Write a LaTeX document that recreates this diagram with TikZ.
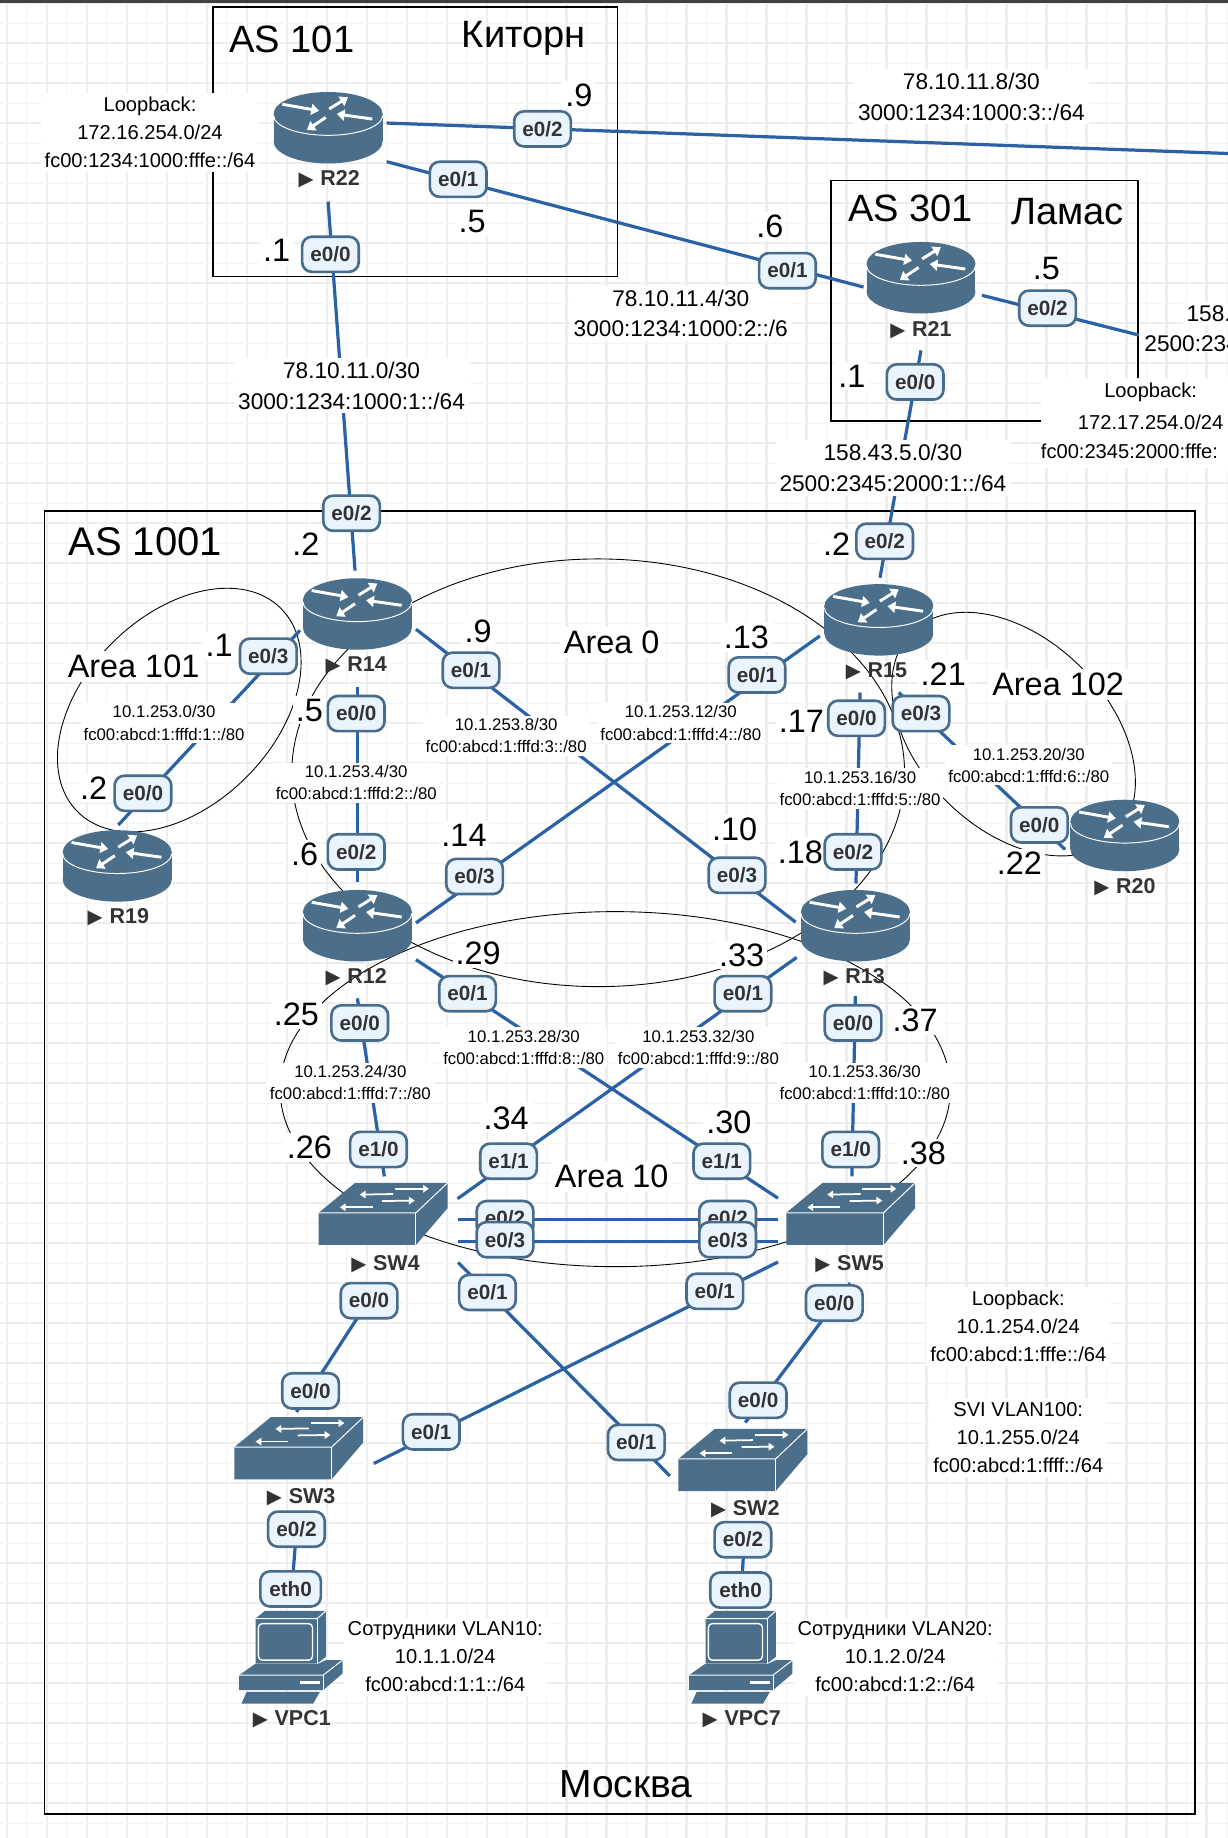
\documentclass[tikz,border=0pt]{standalone}
\usepackage{fontspec}
\setmainfont{Liberation Sans}
\newfontfamily\symfont{DejaVu Sans}
\usetikzlibrary{arrows.meta}
\pgfdeclarelayer{gridlayer}
\pgfdeclarelayer{linklayer}
\pgfsetlayers{gridlayer,linklayer,main}
\definecolor{devblue}{HTML}{4B6F8A}
\definecolor{linkblue}{HTML}{2B62A6}
\definecolor{pillborder}{HTML}{486C8C}
\definecolor{pillfill}{HTML}{E9F4FE}
\definecolor{pilltext}{HTML}{333333}
\definecolor{gridmajor}{HTML}{EEEEEE}
\definecolor{gridminor}{HTML}{F5F5F5}
\newcommand{\tri}{{\symfont\fontsize{10}{10}\selectfont ▶}\hspace{3.5pt}}
\tikzset{
  devnode/.style={inner sep=0pt,minimum size=1pt},
  link/.style={draw=linkblue,line width=1.65pt},
  area/.style={draw=black,line width=0.45pt},
  box/.style={draw=black,line width=0.95pt},
  pill/.style={draw=pillborder,fill=pillfill,text=pilltext,line width=1.35pt,rounded corners=5pt,
    minimum width=29pt,minimum height=18pt,inner xsep=1pt,inner ysep=0pt,font=\fontsize{10.6}{12}\selectfont\bfseries},
  devlabel/.style={text=pilltext,inner sep=0pt,font=\fontsize{11}{12}\selectfont\bfseries},
  dotlabel/.style={fill=white,inner sep=1.5pt,font=\fontsize{16.6}{18}\selectfont},
  arealabel/.style={fill=white,inner sep=2pt,font=\fontsize{16.6}{18}\selectfont},
  title/.style={inner sep=1pt,font=\fontsize{19.5}{22}\selectfont},
  bignet/.style={fill=white,inner sep=2pt,align=center,font=\fontsize{11.6}{15.8}\selectfont},
  loopnet/.style={fill=white,inner sep=2pt,align=center,font=\fontsize{10.3}{14.4}\selectfont},
  smallnet/.style={fill=white,inner sep=1.5pt,align=center,font=\fontsize{8.6}{11.3}\selectfont},
  routerpic/.pic={
    \fill[devblue] (-46.5,-11.7) rectangle (46.5,11.7);
    \fill[devblue] (0,11.7) ellipse [x radius=46.5,y radius=18.8];
    \fill[devblue] (0,-11.7) ellipse [x radius=46.5,y radius=18.8];
    \draw[white,line width=0.5pt] (-46.5,-10.5) arc [start angle=180,end angle=0,x radius=46.5,y radius=17];
    \begin{scope}[white,line width=1.5pt,-{Triangle[length=4pt,width=5.6pt]}]
      \draw (-39,-20) -- (-7.7,-14.5);
      \draw (0.9,-16) -- (17,-26);
      \draw (37.8,-7.4) -- (7.4,-11.7);
      \draw (-2,-8.8) -- (-18,2);
    \end{scope}
  },
  switchpic/.pic={
    \fill[devblue] (-24,-26.5) -- (55,-26.5) -- (55,-5) -- (28,26.5) -- (-55,26.5) -- (-55,-1) -- cycle;
    \draw[white,line width=0.5pt] (-55,-1) -- (28,-1) -- (55,-26.5);
    \draw[white,line width=0.5pt] (28,-1) -- (28,26.5);
    \begin{scope}[white,line width=0.9pt,-{Triangle[length=3pt,width=3.8pt]}]
      \draw (10,-21.5) -- (39,-21.5);
      \draw (8.5,-17) -- (-20,-16.5);
      \draw (-1,-11) -- (27,-11.4);
      \draw (-9,-5.7) -- (-37,-5.7);
    \end{scope}
  },
  pcpic/.pic={
    \fill[devblue] (-30.4,-32.7) -- (-22.5,-39.2) -- (29.6,-39.2) -- (29.6,0) -- (22.2,5.7) -- (-30.4,5.7) -- cycle;
    \draw[white,line width=0.5pt] (-30.4,-32.7) -- (22.2,-32.7) -- (29.6,-39.2);
    \draw[white,line width=0.5pt] (22.2,-32.7) -- (22.2,5.7);
    \draw[white,line width=0.7pt,rounded corners=2pt] (-28,-28.4) rectangle (18.2,2.8);
    \fill[devblue] (-31,6.2) -- (-44.4,15.6) -- (-44.4,28.4) -- (27.3,28.4) -- (43.8,14.2) -- (43.8,2.8) -- (29.6,2.8) -- (22.2,6.2) -- cycle;
    \draw[white,line width=0.5pt] (-44.4,15.6) -- (27.3,15.6) -- (43.8,2.8);
    \draw[white,line width=0.5pt] (27.3,15.6) -- (27.3,28.4);
    \fill[white] (7.4,20.5) rectangle (24.5,23.3);
    \fill[devblue] (-38,29.9) -- (24.5,29.9) -- (18.8,39.8) -- (-42.4,39.8) -- cycle;
  }
}
\begin{document}
\begin{tikzpicture}[x=0.6pt,y=-0.6pt]
\useasboundingbox (0,0) rectangle (1048,1568.6);
\begin{pgfonlayer}{gridlayer}
  \fill[white] (0,0) rectangle (1048,1568.6);
  \foreach \i in {0,...,61} {
    \pgfmathsetmacro{\gx}{5.7+17.07*\i}
    \draw[gridminor,line width=0.6pt] (\gx,0) -- (\gx,1568.6);
  }
  \foreach \i in {0,...,30} {
    \pgfmathsetmacro{\gx}{5.7+34.13*\i}
    \draw[gridmajor,line width=1.1pt] (\gx,0) -- (\gx,1568.6);
  }
  \foreach \i in {0,...,91} {
    \pgfmathsetmacro{\gy}{2.8+17.07*\i}
    \draw[gridminor,line width=0.6pt] (0,\gy) -- (1048,\gy);
  }
  \foreach \i in {0,...,45} {
    \pgfmathsetmacro{\gy}{2.8+34.13*\i}
    \draw[gridmajor,line width=1.1pt] (0,\gy) -- (1048,\gy);
  }
  \fill[black!75] (0,0) rectangle (1048,2.5);
  \draw[box] (182,6) rectangle (527,236);
  \draw[box] (709,154) rectangle (971,359);
  \draw[box] (38,436) rectangle (1020,1548);
\end{pgfonlayer}

% devices
\node[devnode] (r22) at (280,109) {};
\node[devnode] (r21) at (786,237) {};
\node[devnode] (r14) at (305,524) {};
\node[devnode] (r15) at (750,529) {};
\node[devnode] (r19) at (100,739) {};
\node[devnode] (r12) at (305,790) {};
\node[devnode] (r13) at (730,790) {};
\node[devnode] (r20) at (960,713) {};
\node[devnode] (sw4) at (327,1036) {};
\node[devnode] (sw5) at (726,1036) {};
\node[devnode] (sw3) at (255,1236) {};
\node[devnode] (sw2) at (634,1246) {};
\node[devnode] (vpc1) at (248.5,1414) {};
\node[devnode] (vpc7) at (632.5,1414) {};
\foreach \d in {r22,r21,r14,r15,r19,r12,r13,r20} { \pic at (\d) {routerpic}; }
\foreach \d in {sw4,sw5,sw3,sw2} { \pic at (\d) {switchpic}; }
\foreach \d in {vpc1,vpc7} { \pic at (\d) {pcpic}; }

\node[devlabel] (lr22) at (281,153) {\tri R22};
\node[devlabel] (lr21) at (786,282) {\tri R21};
\node[devlabel] (lr14) at (304,568) {\tri R14};
\node[devlabel] (lr15) at (748,573) {\tri R15};
\node[devlabel] (lr19) at (101,783) {\tri R19};
\node[devlabel] (lr12) at (304,834) {\tri R12};
\node[devlabel] (lr13) at (729,834) {\tri R13};
\node[devlabel] (lr20) at (960,757) {\tri R20};
\node[devlabel] (lsw4) at (329,1079) {\tri SW4};
\node[devlabel] (lsw5) at (725,1079) {\tri SW5};
\node[devlabel] (lsw3) at (257,1278) {\tri SW3};
\node[devlabel] (lsw2) at (636,1288) {\tri SW2};
\node[devlabel] (lvpc1) at (249,1467) {\tri VPC1};
\node[devlabel] (lvpc7) at (633,1467) {\tri VPC7};

% titles
\node[title] (tas101) at (249,34) {AS 101};
\node[title] (tkit) at (447,33) {Киторн};
\node[title] (tas301) at (777,178) {AS 301};
\node[title] (tlam) at (911,181) {Ламас};
\node[title,font=\fontsize{20.5}{22}\selectfont] (tas1001) at (124,462) {AS 1001};
\node[title,font=\fontsize{20}{22}\selectfont] (tmsk) at (534,1523) {Москва};

% area labels
\node[arealabel] (a101) at (114,569) {Area 101};
\node[arealabel] (a0) at (522,548) {Area 0};
\node[arealabel] (a102) at (903,584) {Area 102};
\node[arealabel] (a10) at (522,1004) {Area 10};

% network labels
\node[loopnet] (n1) at (128,113) {Loopback:\\172.16.254.0/24\\fc00:1234:1000:fffe::/64};
\node[bignet] (n2) at (300,329) {78.10.11.0/30\\3000:1234:1000:1::/64};
\node[bignet] (n3) at (829,82.5) {78.10.11.8/30\\3000:1234:1000:3::/64};
\node[bignet] (n4) at (581,267.5) {78.10.11.4/30\\3000:1234:1000:2::/6};
\node[bignet] (n5) at (762,399.5) {158.43.5.0/30\\2500:2345:2000:1::/64};
\node[bignet,anchor=west] (n6a) at (1009,268) {158.4};
\node[bignet,anchor=west,inner ysep=0.5pt] (n6b) at (973,293) {2500:234};
\fill[white] (888,323) rectangle (1048,399);
\node[inner sep=0pt,font=\fontsize{10.3}{14.4}\selectfont] (n7a) at (982,335) {Loopback:};
\node[inner sep=0pt,font=\fontsize{10.3}{14.4}\selectfont] (n7b) at (982,360) {172.17.254.0/24};
\node[inner sep=0pt,anchor=west,font=\fontsize{10.3}{14.4}\selectfont] (n7c) at (888,385) {fc00:2345:2000:fffe:};
\node[smallnet] (s0) at (140,617) {10.1.253.0/30\\fc00:abcd:1:fffd:1::/80};
\node[smallnet] (s4) at (304,668) {10.1.253.4/30\\fc00:abcd:1:fffd:2::/80};
\node[smallnet] (s8) at (432,628) {10.1.253.8/30\\fc00:abcd:1:fffd:3::/80};
\node[smallnet] (s12) at (581,617) {10.1.253.12/30\\fc00:abcd:1:fffd:4::/80};
\node[smallnet] (s16) at (734,673) {10.1.253.16/30\\fc00:abcd:1:fffd:5::/80};
\node[smallnet] (s20) at (878,653) {10.1.253.20/30\\fc00:abcd:1:fffd:6::/80};
\node[smallnet] (s24) at (299,924) {10.1.253.24/30\\fc00:abcd:1:fffd:7::/80};
\node[smallnet] (s28) at (447,894) {10.1.253.28/30\\fc00:abcd:1:fffd:8::/80};
\node[smallnet] (s32) at (596,894) {10.1.253.32/30\\fc00:abcd:1:fffd:9::/80};
\node[smallnet] (s36) at (738,924) {10.1.253.36/30\\fc00:abcd:1:fffd:10::/80};
\node[loopnet] (n8) at (869,1132) {Loopback:\\10.1.254.0/24\\fc00:abcd:1:fffe::/64};
\node[loopnet] (n9) at (869,1227) {SVI VLAN100:\\10.1.255.0/24\\fc00:abcd:1:ffff::/64};
\node[loopnet] (n10) at (380,1414) {Сотрудники VLAN10:\\10.1.1.0/24\\fc00:abcd:1:1::/64};
\node[loopnet] (n11) at (764,1414) {Сотрудники VLAN20:\\10.1.2.0/24\\fc00:abcd:1:2::/64};

% address labels
\node[dotlabel] (d1) at (494,81) {.9};
\node[dotlabel] (d2) at (403,189) {.5};
\node[dotlabel] (d3) at (236,214) {.1};
\node[dotlabel] (d4) at (657,193) {.6};
\node[dotlabel] (d5) at (893,229) {.5};
\node[dotlabel] (d6) at (727,321) {.1};
\node[dotlabel] (d7) at (261,464) {.2};
\node[dotlabel] (d8) at (187,551) {.1};
\node[dotlabel] (d9) at (264,606) {.5};
\node[dotlabel] (d10) at (408,539) {.9};
\node[dotlabel] (d11) at (80,673) {.2};
\node[dotlabel] (d12) at (714,464) {.2};
\node[dotlabel] (d13) at (637,544) {.13};
\node[dotlabel] (d14) at (684,616) {.17};
\node[dotlabel] (d15) at (805,575) {.21};
\node[dotlabel] (d16) at (260,729) {.6};
\node[dotlabel] (d17) at (396,713) {.14};
\node[dotlabel] (d18) at (627,708) {.10};
\node[dotlabel] (d19) at (683,727) {.18};
\node[dotlabel] (d20) at (870,737) {.22};
\node[dotlabel] (d21) at (408,814) {.29};
\node[dotlabel] (d22) at (633,815) {.33};
\node[dotlabel] (d23) at (253,866) {.25};
\node[dotlabel] (d24) at (781,871) {.37};
\node[dotlabel] (d25) at (264,979) {.26};
\node[dotlabel] (d26) at (432,954) {.34};
\node[dotlabel] (d27) at (622,958) {.30};
\node[dotlabel] (d28) at (788,984) {.38};

% interface pills
\node[pill] (p22b) at (463,110) {e0/2};
\node[pill] (p22a) at (391,153) {e0/1};
\node[pill] (p22c) at (282,217) {e0/0};
\node[pill] (p21a) at (672,231) {e0/1};
\node[pill] (p21b) at (894,263) {e0/2};
\node[pill] (p21c) at (781,326) {e0/0};
\node[pill] (p14a) at (300,438) {e0/2};
\node[pill] (p14b) at (229,560) {e0/3};
\node[pill] (p14c) at (304,609) {e0/0};
\node[pill] (p14d) at (402,572) {e0/1};
\node[pill] (p19a) at (122,677) {e0/0};
\node[pill] (p12a) at (304,727) {e0/2};
\node[pill] (p12b) at (405,748) {e0/3};
\node[pill] (p12c) at (399,848) {e0/1};
\node[pill] (p12d) at (307,873) {e0/0};
\node[pill] (p15a) at (755,462) {e0/2};
\node[pill] (p15b) at (646,576) {e0/1};
\node[pill] (p15c) at (731,613) {e0/0};
\node[pill] (p15d) at (786,609) {e0/3};
\node[pill] (p13a) at (728,727) {e0/2};
\node[pill] (p13b) at (629,747) {e0/3};
\node[pill] (p13c) at (634,848) {e0/1};
\node[pill] (p13d) at (728,873) {e0/0};
\node[pill] (p20a) at (887,704) {e0/0};
\node[pill] (p4a) at (323,981) {e1/0};
\node[pill] (p4b) at (434,991) {e1/1};
\node[pill] (p4c) at (431,1040) {e0/2};
\node[pill] (p4d) at (431,1058) {e0/3};
\node[pill] (p4e) at (416,1103) {e0/1};
\node[pill] (p4f) at (315,1110) {e0/0};
\node[pill] (p5a) at (726,981) {e1/0};
\node[pill] (p5b) at (616,991) {e1/1};
\node[pill] (p5c) at (621,1040) {e0/2};
\node[pill] (p5d) at (621,1058) {e0/3};
\node[pill] (p5e) at (610,1102) {e0/1};
\node[pill] (p5f) at (712,1112) {e0/0};
\node[pill] (p3a) at (265,1187) {e0/0};
\node[pill] (p3b) at (368,1222) {e0/1};
\node[pill] (p3c) at (253,1305) {e0/2};
\node[pill] (p2a) at (647,1195) {e0/0};
\node[pill] (p2b) at (543,1231) {e0/1};
\node[pill] (p2c) at (634,1314) {e0/2};
\node[pill,minimum width=31pt] (pv1) at (248,1356) {eth0};
\node[pill,minimum width=31pt] (pv7) at (632,1357) {eth0};

% connector end points at the devices
\coordinate (r22s) at (280,172);
\coordinate (r22e) at (330,105);
\coordinate (r22se) at (330,138);
\coordinate (edge) at (1048,131);
\coordinate (r21w) at (737,245);
\coordinate (r21e) at (838,252);
\coordinate (r21r) at (972,286);
\coordinate (r21s) at (786,299);
\coordinate (r15n) at (751,493);
\coordinate (r14n) at (303,487);
\coordinate (r14sw) at (256,538);
\coordinate (r19n) at (101,704);
\coordinate (r14se) at (355,537);
\coordinate (r13nw) at (679,787);
\coordinate (r14s) at (305,586);
\coordinate (r12n) at (305,753);
\coordinate (r15w) at (699.7,542.7);
\coordinate (r12ne) at (355,787.6);
\coordinate (r15s) at (734,591);
\coordinate (r13n) at (730.5,754);
\coordinate (r15se) at (767,591);
\coordinate (r20w) at (909,725);
\coordinate (r12se) at (355,819);
\coordinate (s5nw) at (664,1022.6);
\coordinate (r13sw) at (680,817);
\coordinate (s4ne) at (390.5,1023);
\coordinate (r12s) at (305,852);
\coordinate (s4n) at (328,1004);
\coordinate (r13s) at (730,850);
\coordinate (s5n) at (727,1004);
\coordinate (s4ea) at (390.5,1041);
\coordinate (s5wa) at (664,1041);
\coordinate (s4eb) at (390.5,1059.5);
\coordinate (s5wb) at (664,1059.5);
\coordinate (s4se) at (391,1077.4);
\coordinate (s2w) at (571.6,1259.5);
\coordinate (s5sw) at (664,1077);
\coordinate (s3e) at (319,1249);
\coordinate (s4s) at (321,1100);
\coordinate (s3n) at (253,1205);
\coordinate (s5s) at (725.6,1095);
\coordinate (s2n) at (636,1214);
\coordinate (s3s) at (254,1293);
\coordinate (v1n) at (248,1370);
\coordinate (s2s) at (636,1300);
\coordinate (v7n) at (632,1370);

\begin{pgfonlayer}{linklayer}
  % area outlines
  \draw[area,rotate around={45:(153,606)}] (153,606) ellipse [x radius=122.7,y radius=81];
  \draw[area,rotate around={-45:(865,626.5)}] (865,626.5) ellipse [x radius=122.7,y radius=81];
  \draw[area] (510.5,659.5) ellipse [x radius=261.5,y radius=182.5];
  \draw[area] (525,929.5) ellipse [x radius=286,y radius=151.5];
  % links
  \draw[link] (r22s) -- (r14n);
  \draw[link] (r22e) -- (edge);
  \draw[link] (r22se) -- (r21w);
  \draw[link] (r21e) -- (r21r);
  \draw[link] (r21s) -- (r15n);
  \draw[link] (r14sw) -- (r19n);
  \draw[link] (r14se) -- (r13nw);
  \draw[link] (r14s) -- (r12n);
  \draw[link] (r15w) -- (r12ne);
  \draw[link] (r15s) -- (r13n);
  \draw[link] (r15se) -- (r20w);
  \draw[link] (r12se) -- (s5nw);
  \draw[link] (r13sw) -- (s4ne);
  \draw[link] (r12s) -- (s4n);
  \draw[link] (r13s) -- (s5n);
  \draw[link] (s4ea) -- (s5wa);
  \draw[link] (s4eb) -- (s5wb);
  \draw[link] (s4se) -- (s2w);
  \draw[link] (s5sw) -- (s3e);
  \draw[link] (s4s) -- (s3n);
  \draw[link] (s5s) -- (s2n);
  \draw[link] (s3s) -- (v1n);
  \draw[link] (s2s) -- (v7n);
\end{pgfonlayer}
\end{tikzpicture}
\end{document}
